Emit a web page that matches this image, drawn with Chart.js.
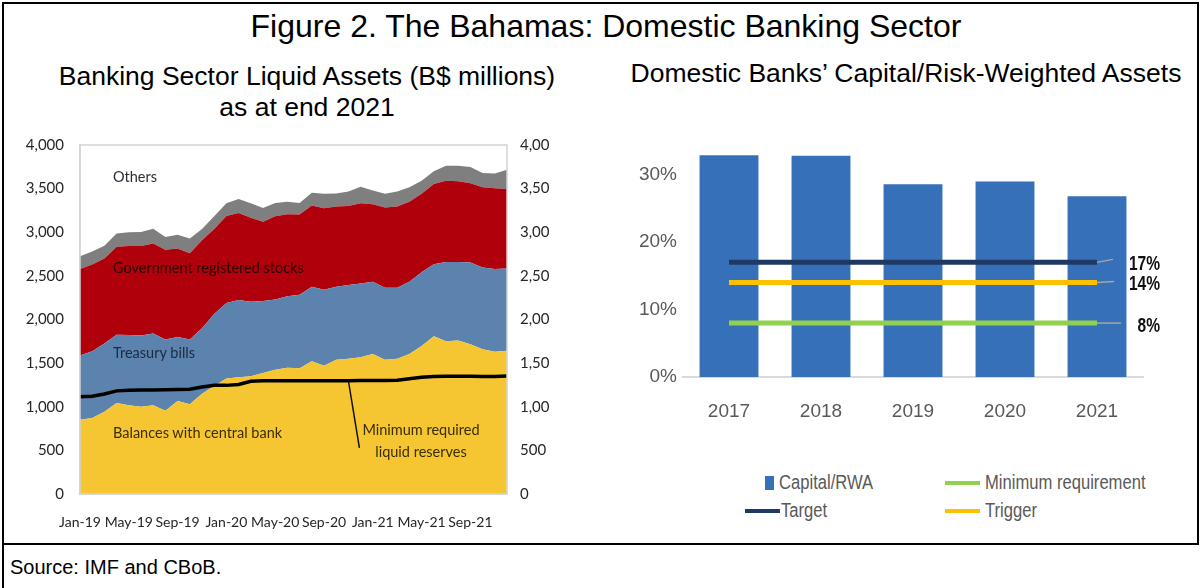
<!DOCTYPE html>
<html>
<head>
<meta charset="utf-8">
<script src="https://cdn.jsdelivr.net/npm/chart.js@4.4.0/dist/chart.umd.min.js"></script>
<style>
  body { margin: 0; width: 1201px; height: 588px; background: #fff; position: relative; overflow: hidden;
         font-family: 'Liberation Sans', Arial, sans-serif; color: #000; }
  .abs { position: absolute; white-space: nowrap; }
  .frame { position: absolute; left: 2px; top: 2px; width: 1193px; height: 539px; border: 2px solid #000; }
  .tail { position: absolute; left: 2px; top: 543px; width: 2px; height: 45px; background: #000; }
  .title { left: 106px; width: 1000px; top: 8px; text-align: center; font-size: 32px; }
  .sub { text-align: center; }
  .note { font-family: Lato, 'Open Sans', sans-serif; font-size: 14.5px; line-height: 16px; }
  .leg { font-size: 20px; color: #595959; line-height: 22px; transform: scaleX(0.83); transform-origin: left center; }
  .swatch { position: absolute; }
  canvas { position: absolute; }
</style>
</head>
<body>
<div class="frame"></div>
<div class="tail"></div>

<div class="abs title">Figure 2. The Bahamas: Domestic Banking Sector</div>
<div class="abs sub" style="left:7px;width:600px;top:61px;font-size:26.5px;line-height:31px;">Banking Sector Liquid Assets (B$ millions)<br>as at end 2021</div>
<div class="abs sub" style="left:606px;width:600px;top:58px;font-size:26.5px;">Domestic Banks’ Capital/Risk-Weighted Assets</div>

<div style="position:absolute;left:0;top:120px;width:560px;height:420px;">
  <canvas id="liquidChart" width="560" height="420"></canvas>
</div>
<div style="position:absolute;left:600px;top:120px;width:600px;height:310px;">
  <canvas id="capitalChart" width="600" height="310"></canvas>
</div>

<!-- series labels inside the stacked areas -->
<div class="abs note" style="left:113px;top:169px;color:#2b2b33;">Others</div>
<div class="abs note" style="left:113px;top:260px;color:#2a0000;">Government registered stocks</div>
<div class="abs note" style="left:113px;top:345px;color:#1c2a44;">Treasury bills</div>
<div class="abs note" style="left:113px;top:425px;color:#3a2e00;">Balances with central bank</div>
<div class="abs note" style="left:341px;width:160px;top:419px;line-height:22px;text-align:center;color:#3a2e00;">Minimum required<br>liquid reserves</div>

<!-- legend for the capital chart -->
<div class="swatch" style="left:765px;top:476px;width:9px;height:14px;background:#3670b8;"></div>
<div class="abs leg" style="left:779px;top:471px;">Capital/RWA</div>
<div class="swatch" style="left:945px;top:481px;width:35px;height:4px;background:#92d050;"></div>
<div class="abs leg" style="left:985px;top:471px;">Minimum requirement</div>
<div class="swatch" style="left:745px;top:509px;width:35px;height:4px;background:#1f3864;"></div>
<div class="abs leg" style="left:781px;top:499px;">Target</div>
<div class="swatch" style="left:945px;top:509px;width:35px;height:4px;background:#ffc000;"></div>
<div class="abs leg" style="left:985px;top:499px;">Trigger</div>

<div class="abs" style="left:10px;top:556px;font-size:20px;">Source: IMF and CBoB.</div>

<script>
// liquid assets, B$ millions, monthly
const months = ['Jan-19','Feb-19','Mar-19','Apr-19','May-19','Jun-19','Jul-19','Aug-19','Sep-19','Oct-19','Nov-19','Dec-19',
                'Jan-20','Feb-20','Mar-20','Apr-20','May-20','Jun-20','Jul-20','Aug-20','Sep-20','Oct-20','Nov-20','Dec-20',
                'Jan-21','Feb-21','Mar-21','Apr-21','May-21','Jun-21','Jul-21','Aug-21','Sep-21','Oct-21','Nov-21','Dec-21'];
const balancesCB = [850,870,944,1043,1017,999,1017,955,1065,1028,1150,1238,1325,1337,1350,1388,1425,1447,
                    1440,1521,1469,1539,1550,1568,1605,1539,1550,1605,1697,1807,1752,1760,1715,1660,1631,1642];
const treasuryBills = [737,765,781,783,806,819,823,815,735,742,749,826,865,887,854,824,805,819,
                       845,855,871,837,845,845,827,826,815,827,845,827,907,899,937,937,947,943];
const govStocks = [991,995,975,1009,1019,1024,1030,1030,1015,990,1010,974,997,997,961,908,954,939,
                   918,930,936,919,905,918,888,919,930,918,899,918,930,926,911,918,927,912];
const otherAssets = [147,150,145,150,158,161,170,146,157,168,129,146,144,159,166,158,151,145,
                     132,146,165,150,167,191,158,157,172,165,148,147,172,176,184,165,168,220];
const minReserves = [1116,1120,1146,1182,1190,1192,1192,1195,1198,1201,1227,1245,1245,1256,1293,1297,1297,1297,
                     1298,1298,1298,1298,1298,1300,1300,1300,1305,1322,1337,1348,1350,1350,1350,1348,1348,1352];
const leftTicks = ['0','500','1,000','1,500','2,000','2,500','3,000','3,500','4,000'];
const rightTicks = ['0','500','1,00','1,50','2,00','2,50','3,00','3,50','4,00'];

// capital to risk-weighted assets, percent
const years = ['2017','2018','2019','2020','2021'];
const capitalRwa = [32.9, 32.8, 28.6, 29.0, 26.8];
const targetLevel = [17, 17, 17, 17, 17];
const triggerLevel = [14, 14, 14, 14, 14];
const minRequirement = [8, 8, 8, 8, 8];

const tickFont = { family: 'Lato, "Open Sans", sans-serif', size: 15 };
const capFont = { family: '"Liberation Sans", Arial, sans-serif', size: 19 };

// light frame round the plot area + pointer from the reserves line to its label
const liquidExtras = {
  id: 'liquidExtras',
  afterDatasetsDraw(chart) {
    const { ctx, chartArea: a, scales } = chart;
    ctx.save();
    ctx.strokeStyle = '#d4d4d4';
    ctx.lineWidth = 1.5;
    ctx.strokeRect(a.left, a.top, a.right - a.left, a.bottom - a.top);
    const i = 22;
    const x0 = scales.x.getPixelForValue(i);
    const y0 = scales.y.getPixelForValue(minReserves[i]);
    ctx.strokeStyle = '#111';
    ctx.lineWidth = 1.5;
    ctx.beginPath();
    ctx.moveTo(x0, y0);
    ctx.lineTo(x0 + 11, scales.y.getPixelForValue(530));
    ctx.stroke();
    ctx.restore();
  }
};

new Chart(document.getElementById('liquidChart'), {
  type: 'line',
  data: {
    labels: months,
    datasets: [
      { label: 'Balances with central bank', data: balancesCB, backgroundColor: '#f6c632', fill: 'origin', stack: 'assets' },
      { label: 'Treasury bills', data: treasuryBills, backgroundColor: '#5b83ad', fill: '-1', stack: 'assets' },
      { label: 'Government registered stocks', data: govStocks, backgroundColor: '#b0000b', fill: '-1', stack: 'assets' },
      { label: 'Others', data: otherAssets, backgroundColor: '#7f7f7f', fill: '-1', stack: 'assets' },
      { label: 'Minimum required liquid reserves', data: minReserves, borderColor: '#000', borderWidth: 3.5,
        fill: false, stack: 'reserves', order: -1 }
    ].map(d => Object.assign({ pointRadius: 0, tension: 0, borderWidth: 0 }, d))
  },
  options: {
    responsive: false,
    animation: false,
    layout: { padding: { top: 11, left: 0, right: 0, bottom: 0 } },
    plugins: { legend: { display: false }, tooltip: { enabled: false } },
    scales: {
      x: {
        grid: { display: false, drawTicks: false },
        border: { color: '#d4d4d4', width: 1.5 },
        ticks: { autoSkip: false, maxRotation: 0, font: { family: tickFont.family, size: 14 }, color: '#262626', padding: 20,
                 callback: (v, i) => (i % 4 === 0 ? months[i] : '') },
        afterFit: s => { s.height = 46; }
      },
      y: {
        stacked: true, min: 0, max: 4000,
        grid: { display: false, drawTicks: false },
        border: { color: '#d4d4d4', width: 1.5 },
        ticks: { stepSize: 500, font: tickFont, color: '#262626', padding: 16,
                 callback: (v, i) => leftTicks[i] },
        afterFit: s => { s.width = 80; }
      },
      y2: {
        position: 'right', min: 0, max: 4000,
        grid: { display: false, drawTicks: false },
        border: { display: false },
        ticks: { stepSize: 500, font: tickFont, color: '#262626', padding: 13,
                 callback: (v, i) => rightTicks[i] },
        afterFit: s => { s.width = 53; }
      }
    }
  },
  plugins: [liquidExtras]
});

// value tags at the right end of the threshold lines
const levelTags = {
  id: 'levelTags',
  afterDatasetsDraw(chart) {
    const { ctx } = chart;
    chart.data.datasets.forEach((ds, di) => {
      if (ds.type !== 'line') return;
      const pts = chart.getDatasetMeta(di).data;
      const p = pts[pts.length - 1];
      const v = ds.data[ds.data.length - 1];
      ctx.save();
      ctx.strokeStyle = '#a6a6a6';
      ctx.lineWidth = 1.5;
      ctx.beginPath();
      ctx.moveTo(p.x, p.y);
      ctx.lineTo(p.x + ds.tagLead, p.y - (ds.tagRise || 0));
      ctx.stroke();
      ctx.translate(p.x + 63, p.y + ds.tagShift);
      ctx.scale(0.74, 1);
      ctx.fillStyle = '#111';
      ctx.font = 'bold 21px "Liberation Sans", Arial, sans-serif';
      ctx.textAlign = 'right';
      ctx.textBaseline = 'middle';
      ctx.fillText(v + '%', 0, 0);
      ctx.restore();
    });
  }
};

new Chart(document.getElementById('capitalChart'), {
  type: 'bar',
  data: {
    labels: years,
    datasets: [
      { type: 'line', label: 'Target', data: targetLevel, borderColor: '#1f3864', borderWidth: 5,
        pointRadius: 0, order: 1, tagLead: 16, tagRise: 3, tagShift: 2 },
      { type: 'line', label: 'Trigger', data: triggerLevel, borderColor: '#ffc000', borderWidth: 5,
        pointRadius: 0, order: 1, tagLead: 17, tagRise: 1, tagShift: 2 },
      { type: 'line', label: 'Minimum requirement', data: minRequirement, borderColor: '#92d050', borderWidth: 5,
        pointRadius: 0, order: 1, tagLead: 24, tagRise: 0, tagShift: 3 },
      { label: 'Capital/RWA', data: capitalRwa, backgroundColor: '#3670b8',
        barPercentage: 0.64, categoryPercentage: 1, order: 2 }
    ]
  },
  options: {
    responsive: false,
    animation: false,
    layout: { padding: { top: 21, left: 0, right: 57, bottom: 0 } },
    plugins: { legend: { display: false }, tooltip: { enabled: false } },
    scales: {
      x: {
        grid: { display: false, drawTicks: false },
        border: { color: '#d9d9d9', width: 2 },
        ticks: { font: capFont, color: '#595959', padding: 23 },
        afterFit: s => { s.height = 53; }
      },
      y: {
        min: 0, max: 35,
        grid: { display: false, drawTicks: false },
        border: { display: false },
        ticks: { stepSize: 10, includeBounds: false, font: capFont, color: '#595959',
                 padding: 6, callback: v => v + '%' },
        afterFit: s => { s.width = 83; }
      }
    }
  },
  plugins: [levelTags]
});
</script>
</body>
</html>
